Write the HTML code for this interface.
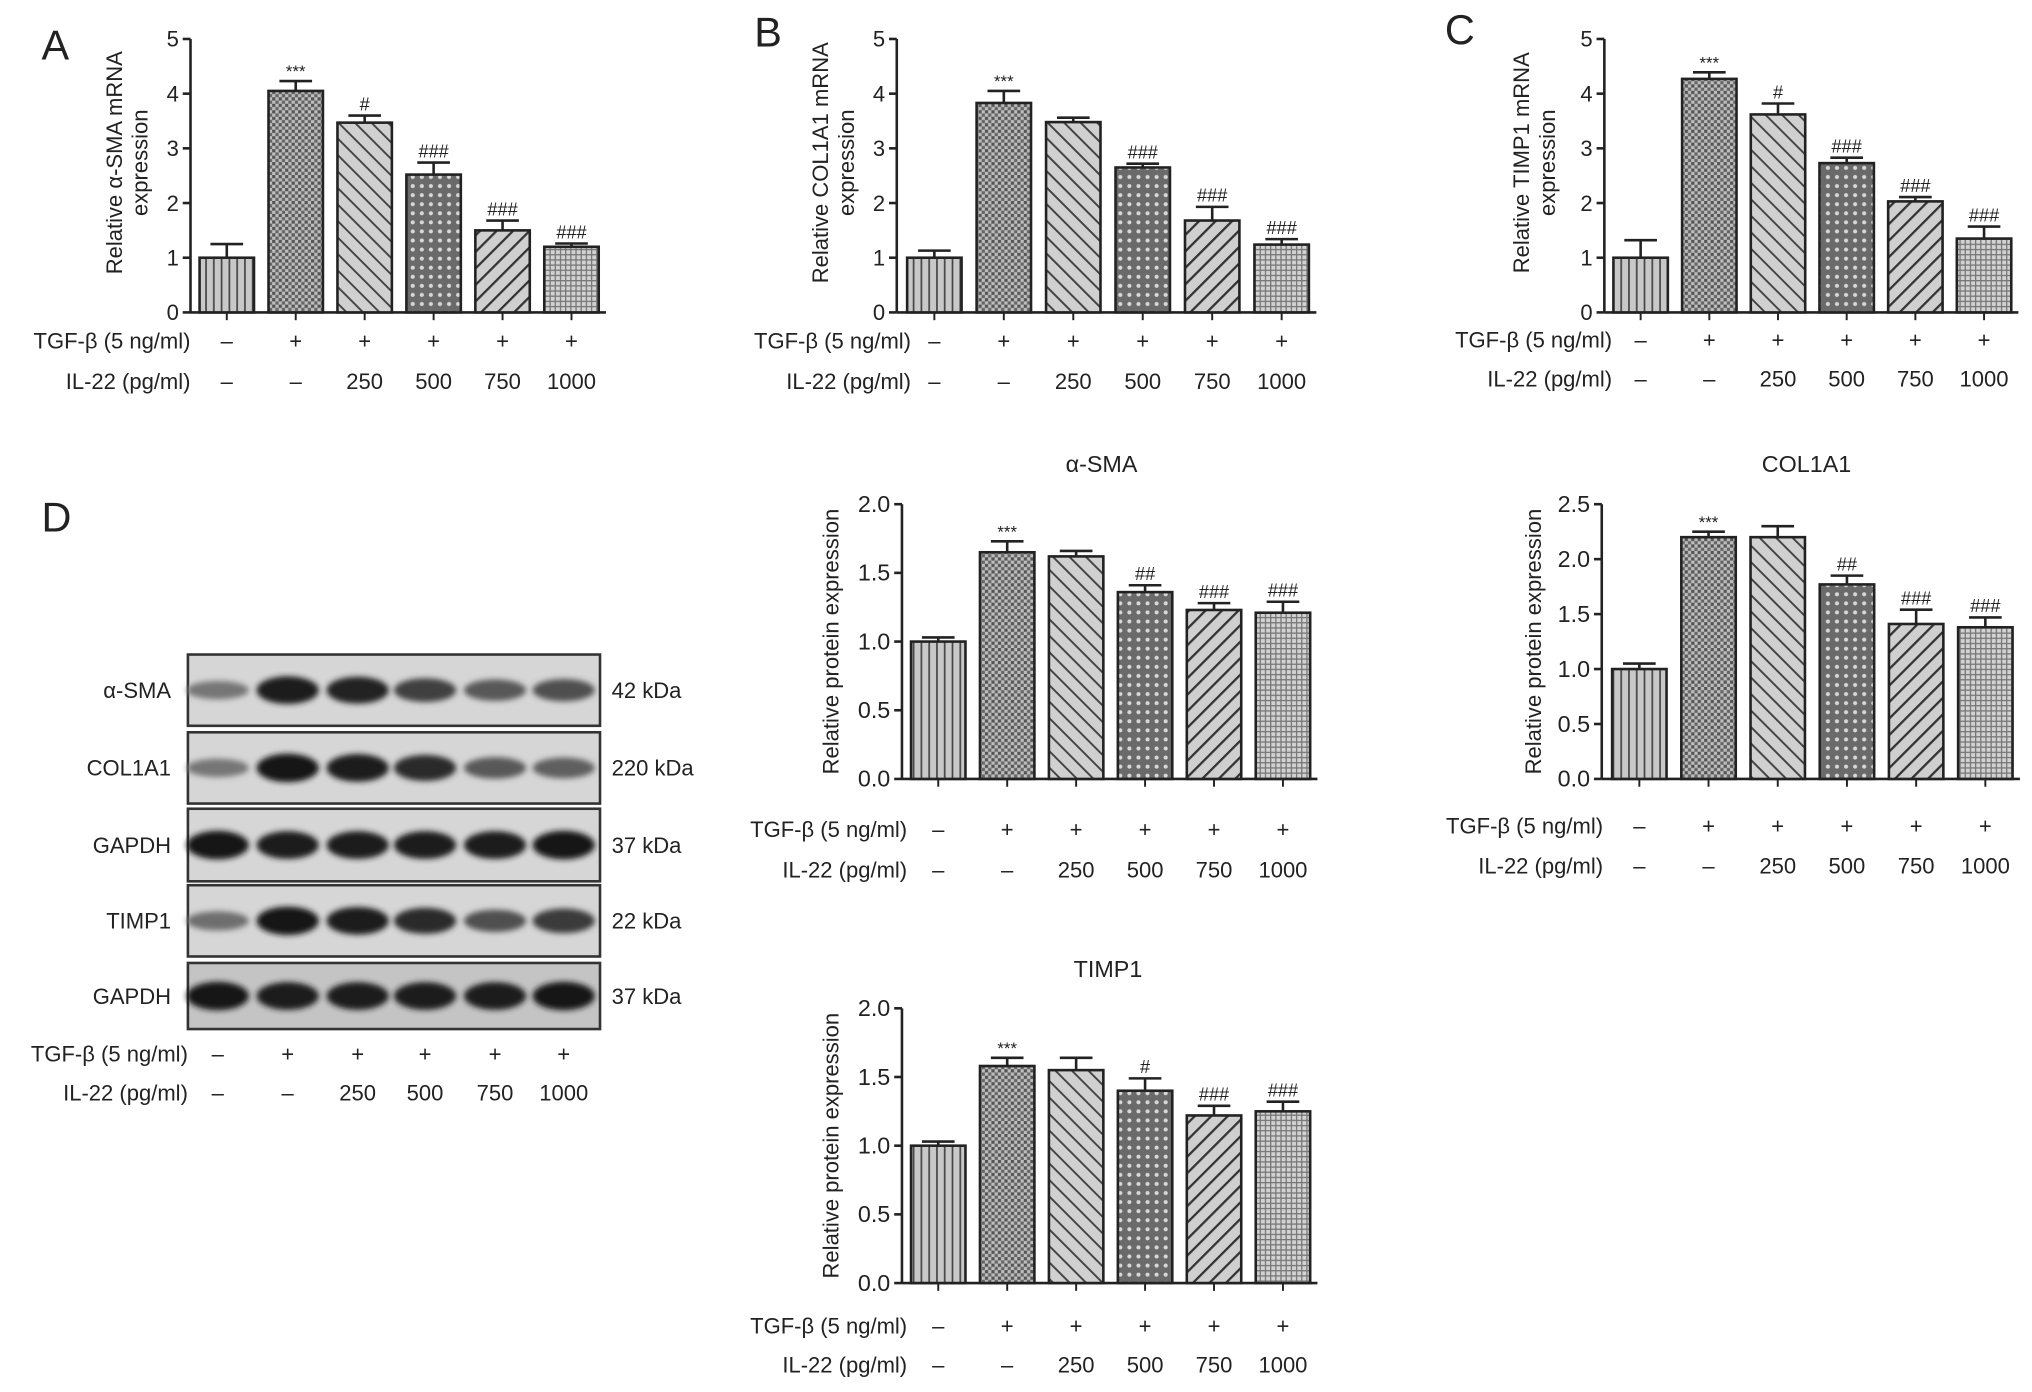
<!DOCTYPE html>
<html><head><meta charset="utf-8">
<style>
html,body{margin:0;padding:0;background:#fff;}
svg{display:block;}
text{font-family:"Liberation Sans",sans-serif;fill:#222;}
</style></head>
<body>
<svg id="fig" width="2032" height="1392" viewBox="0 0 1568 1074" xmlns="http://www.w3.org/2000/svg">
<defs>
<pattern id="p0" width="6" height="6" patternUnits="userSpaceOnUse"><rect width="6" height="6" fill="#c8c8c8"/><line x1="3" y1="0" x2="3" y2="6" stroke="#444" stroke-width="1.3"/></pattern>
<pattern id="p1" width="5" height="5" patternUnits="userSpaceOnUse"><rect width="5" height="5" fill="#bdbdbd"/><rect width="2.5" height="2.5" fill="#555"/><rect x="2.5" y="2.5" width="2.5" height="2.5" fill="#666"/></pattern>
<pattern id="p2" width="9" height="9" patternUnits="userSpaceOnUse" patternTransform="rotate(-45)"><rect width="9" height="9" fill="#d0d0d0"/><line x1="0" y1="0" x2="0" y2="9" stroke="#444" stroke-width="3"/></pattern>
<pattern id="p3" width="7" height="7" patternUnits="userSpaceOnUse"><rect width="7" height="7" fill="#6a6a6a"/><circle cx="3.5" cy="3.5" r="1.6" fill="#d8d8d8"/></pattern>
<pattern id="p4" width="9" height="9" patternUnits="userSpaceOnUse" patternTransform="rotate(45)"><rect width="9" height="9" fill="#cfcfcf"/><line x1="0" y1="0" x2="0" y2="9" stroke="#333" stroke-width="3.5"/></pattern>
<pattern id="p5" width="4" height="4" patternUnits="userSpaceOnUse"><rect width="4" height="4" fill="#d2d2d2"/><line x1="0" y1="0.5" x2="4" y2="0.5" stroke="#777" stroke-width="1"/><line x1="0.5" y1="0" x2="0.5" y2="4" stroke="#777" stroke-width="1"/></pattern>
<filter id="blur" x="-20%" y="-50%" width="140%" height="200%"><feGaussianBlur stdDeviation="2.2"/></filter>
</defs>
</svg>
<script>
// ---- data ----
const tgfRow = ["\u2013","+","+","+","+","+"];
const il22Row = ["\u2013","\u2013","250","500","750","1000"];
const aMrnaVals = [1.0,4.05,3.47,2.52,1.5,1.2];
const aMrnaErr = [0.25,0.18,0.13,0.22,0.18,0.06];
const aMrnaSig = ["","***","#","###","###","###"];
const bMrnaVals = [1.0,3.83,3.48,2.65,1.68,1.24];
const bMrnaErr = [0.13,0.22,0.08,0.07,0.25,0.1];
const bMrnaSig = ["","***","","###","###","###"];
const cMrnaVals = [1.0,4.27,3.62,2.73,2.03,1.35];
const cMrnaErr = [0.32,0.12,0.2,0.1,0.08,0.22];
const cMrnaSig = ["","***","#","###","###","###"];
const mrnaTicks = [0,1,2,3,4,5];
const smaProtVals = [1.0,1.65,1.62,1.36,1.23,1.21];
const smaProtErr = [0.03,0.08,0.04,0.05,0.05,0.08];
const smaProtSig = ["","***","","##","###","###"];
const colProtVals = [1.0,2.2,2.2,1.77,1.41,1.38];
const colProtErr = [0.05,0.05,0.1,0.08,0.13,0.09];
const colProtSig = ["","***","","##","###","###"];
const timpProtVals = [1.0,1.58,1.55,1.40,1.22,1.25];
const timpProtErr = [0.03,0.06,0.09,0.09,0.07,0.07];
const timpProtSig = ["","***","","#","###","###"];
const prot2Ticks = [0,0.5,1.0,1.5,2.0];
const prot25Ticks = [0,0.5,1.0,1.5,2.0,2.5];
const blotNames = ["\u03b1-SMA","COL1A1","GAPDH","TIMP1","GAPDH"];
const blotKda = ["42 kDa","220 kDa","37 kDa","22 kDa","37 kDa"];
const blotIntensity = [
 [0.35,0.95,0.9,0.7,0.55,0.6],
 [0.35,1.0,0.95,0.85,0.55,0.5],
 [1.0,0.95,0.95,0.95,0.95,1.0],
 [0.4,1.0,0.95,0.85,0.6,0.75],
 [1.0,0.95,0.95,0.95,0.95,1.0]];

const NS="http://www.w3.org/2000/svg";
const svg=document.getElementById('fig');
function mk(tag,attrs,parent,txt){const e=document.createElementNS(NS,tag);for(const k in attrs)e.setAttribute(k,attrs[k]);if(txt!==undefined)e.textContent=txt;(parent||svg).appendChild(e);return e;}

function chart(o){
  const g=mk('g',{});
  
  
  const ymax=o.ticks[o.ticks.length-1];
  const yS=v=>o.y0-(v/ymax)*(o.y0-o.yTop);
  const xS=i=>o.x0+o.first+i*o.step;
  const ya=mk('line',{x1:o.x0,y1:o.yTop,x2:o.x0,y2:o.y0,stroke:'#222','stroke-width':2},g);
  
  
  o.ticks.forEach(t=>{
    mk('line',{x1:o.x0-6,y1:yS(t),x2:o.x0,y2:yS(t),stroke:'#222','stroke-width':2},g);
    const tl=mk('text',{x:o.x0-9,y:yS(t)+6,'text-anchor':'end','font-size':o.tickFs||17},g,o.fmt(t));
    
    
  });
  const xEnd=xS(o.vals.length-1)+o.step/2;
  const xa=mk('line',{x1:o.x0,y1:o.y0,x2:xEnd,y2:o.y0,stroke:'#222','stroke-width':2},g);
  
  
  o.vals.forEach((v,i)=>{
    const cx=xS(i),w=o.bw;
    mk('line',{x1:cx,y1:o.y0,x2:cx,y2:o.y0+6,stroke:'#222','stroke-width':1.5},g);
    const top=yS(v+o.err[i]);
    mk('line',{x1:cx,y1:yS(v),x2:cx,y2:top,stroke:'#222','stroke-width':2},g);
    mk('line',{x1:cx-w*0.3,y1:top,x2:cx+w*0.3,y2:top,stroke:'#222','stroke-width':2},g);
    const b=mk('rect',{x:cx-w/2,y:yS(v),width:w,height:o.y0-yS(v),fill:'url(#p'+i+')',stroke:'#222','stroke-width':2},g);
    
    
    if(o.sig[i]){
      const s=mk('text',{x:cx,y:top-(o.sig[i]==='***'?3:4),'text-anchor':'middle','font-size':o.sig[i]==='***'?13:14},g,o.sig[i]);
      
      
    }
    const t1=mk('text',{x:cx,y:o.rowY[0]+6,'text-anchor':'middle','font-size':17},g,tgfRow[i]);
    
    
    const t2=mk('text',{x:cx,y:o.rowY[1]+6,'text-anchor':'middle','font-size':17},g,il22Row[i]);
    
    
  });
  const r1=mk('text',{x:o.rowLabelX,y:o.rowY[0]+6,'text-anchor':'end','font-size':17},g,'TGF-\u03b2 (5 ng/ml)');
  
  
  const r2=mk('text',{x:o.rowLabelX,y:o.rowY[1]+6,'text-anchor':'end','font-size':17},g,'IL-22 (pg/ml)');
  
  
  o.ylab.forEach((l,k)=>{
    const x=o.ylabX[k],y=(o.yTop+o.y0)/2+o.ylabDy;
    const t=mk('text',{x:x,y:y,'text-anchor':'middle','font-size':17,transform:'rotate(-90 '+x+' '+y+')'},g,l);
    
    
  });
  if(o.title){const t=mk('text',{x:o.titleX,y:o.titleY,'text-anchor':'middle','font-size':18},g,o.title);
    }
  if(o.letter){const t=mk('text',{x:o.letter[1],y:o.letter[2],'font-size':32},g,o.letter[0]);
    }
}
const fInt=t=>String(t), f1=t=>t.toFixed(1);
chart({name:'panel-a-asma-mrna',x0:147,y0:241,yTop:30,first:28,step:53.2,bw:42,vals:aMrnaVals,err:aMrnaErr,sig:aMrnaSig,ticks:mrnaTicks,fmt:fInt,rowY:[263,294],rowLabelX:147,ylab:['Relative \u03b1-SMA  mRNA','expression'],ylabX:[94,114],ylabDy:-10,letter:['A',32,46]});
chart({name:'panel-b-col1a1-mrna',x0:692,y0:241,yTop:30,first:29,step:53.6,bw:42,vals:bMrnaVals,err:bMrnaErr,sig:bMrnaSig,ticks:mrnaTicks,fmt:fInt,rowY:[263,294],rowLabelX:703,ylab:['Relative COL1A1  mRNA','expression'],ylabX:[639,659],ylabDy:-10,letter:['B',582,36]});
chart({name:'panel-c-timp1-mrna',x0:1238,y0:241,yTop:30,first:28,step:53,bw:42,vals:cMrnaVals,err:cMrnaErr,sig:cMrnaSig,ticks:mrnaTicks,fmt:fInt,rowY:[262,292],rowLabelX:1244,ylab:['Relative TIMP1  mRNA','expression'],ylabX:[1180,1200],ylabDy:-10,letter:['C',1115,34]});
chart({name:'asma-protein-chart',x0:696,y0:601,yTop:389,first:28,step:53.2,bw:42,vals:smaProtVals,err:smaProtErr,sig:smaProtSig,ticks:prot2Ticks,fmt:f1,tickFs:18,rowY:[640,671],rowLabelX:700,ylab:['Relative protein expression'],ylabX:[647],ylabDy:0,title:'\u03b1-SMA',titleX:850,titleY:364});
chart({name:'col1a1-protein-chart',x0:1236,y0:601,yTop:389,first:29,step:53.4,bw:42,vals:colProtVals,err:colProtErr,sig:colProtSig,ticks:prot25Ticks,fmt:f1,tickFs:18,rowY:[637,668],rowLabelX:1237,ylab:['Relative protein expression'],ylabX:[1189],ylabDy:0,title:'COL1A1',titleX:1394,titleY:364});
chart({name:'timp1-protein-chart',x0:696,y0:990,yTop:778,first:28,step:53.2,bw:42,vals:timpProtVals,err:timpProtErr,sig:timpProtSig,ticks:prot2Ticks,fmt:f1,tickFs:18,rowY:[1023,1053],rowLabelX:700,ylab:['Relative protein expression'],ylabX:[647],ylabDy:0,title:'TIMP1',titleX:855,titleY:754});

// ---- western blot ----
const wb=mk('g',{});


const dl=mk('text',{x:32,y:410,'font-size':32},wb,'D');


const rowTops=[505,565,624,683,743], rowH=[55,55,56,55,51];
const laneX=[168,222,276,328,382,435];
blotNames.forEach((n,r)=>{
  const y=rowTops[r],h=rowH[r],cy=y+h/2;
  const box=mk('rect',{x:145,y:y,width:318,height:h,fill:r===4?'#c4c4c4':'#d6d6d6',stroke:'#333','stroke-width':2},wb);
  
  
  blotIntensity[r].forEach((v,i)=>{
    const c=Math.round(20+(1-v)*150);
    const b=mk('ellipse',{cx:laneX[i],cy:cy,rx:24,ry:5+6*v,fill:'rgb('+c+','+c+','+c+')',filter:'url(#blur)'},wb);
    
    
  });
  const nl=mk('text',{x:132,y:cy+6,'text-anchor':'end','font-size':17},wb,n);
  
  
  const kl=mk('text',{x:472,y:cy+6,'font-size':17},wb,blotKda[r]);
  
  
});
laneX.forEach((x,i)=>{
  const a=mk('text',{x:x,y:819,'text-anchor':'middle','font-size':17},wb,tgfRow[i]);
  
  
  const b=mk('text',{x:x,y:849,'text-anchor':'middle','font-size':17},wb,il22Row[i]);
  
  
});
const w1=mk('text',{x:145,y:819,'text-anchor':'end','font-size':17},wb,'TGF-\u03b2 (5 ng/ml)');


const w2=mk('text',{x:145,y:849,'text-anchor':'end','font-size':17},wb,'IL-22 (pg/ml)');


</script>
</body></html>
